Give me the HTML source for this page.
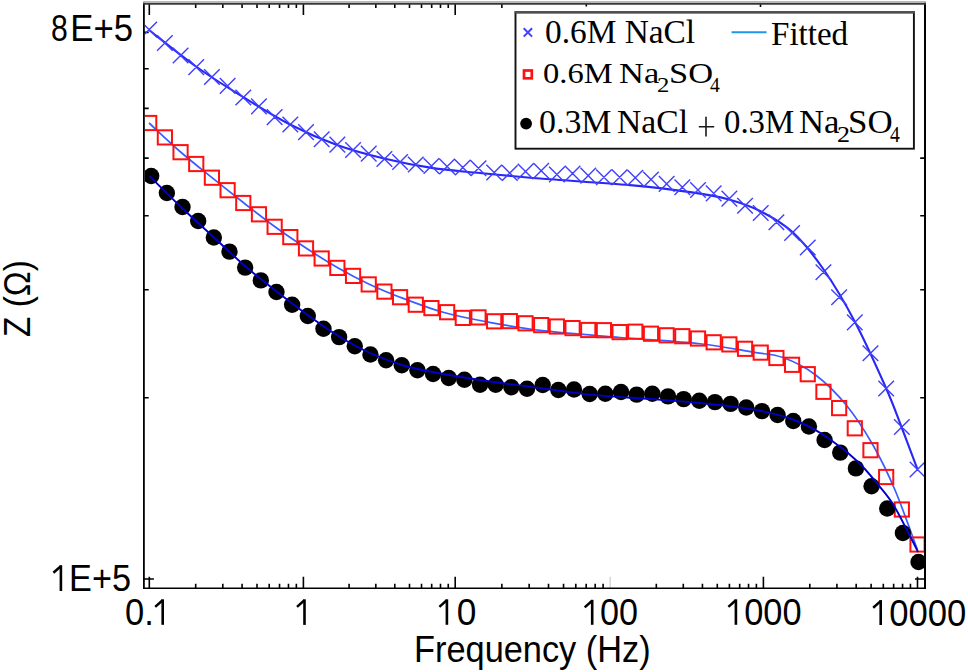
<!DOCTYPE html>
<html><head><meta charset="utf-8"><style>
html,body{margin:0;padding:0;background:#fff;}
body{width:968px;height:672px;position:relative;overflow:hidden;}
svg{position:absolute;left:0;top:0;}
.t{position:absolute;font-family:"Liberation Sans",sans-serif;font-size:36px;line-height:1;color:#000;white-space:nowrap;transform-origin:0 0;}
.o{color:transparent;}
.s{position:absolute;font-family:"Liberation Serif",serif;font-size:33px;line-height:1;color:#000;white-space:nowrap;transform-origin:0 0;}
.s sub{font-size:0.73em;vertical-align:-0.3em;line-height:0;}
</style></head><body>
<svg width="968" height="672" viewBox="0 0 968 672">
<defs><clipPath id="pc"><rect x="144.9" y="4.6" width="779.1" height="582.6"/></clipPath></defs>
<path d="M149.30,588.20V576.70 M149.30,3.60V15.10 M195.69,588.20V583.70 M195.69,3.60V8.10 M222.82,588.20V583.70 M222.82,3.60V8.10 M242.08,588.20V583.70 M242.08,3.60V8.10 M257.01,588.20V583.70 M257.01,3.60V8.10 M269.21,588.20V583.70 M269.21,3.60V8.10 M279.53,588.20V583.70 M279.53,3.60V8.10 M288.47,588.20V583.70 M288.47,3.60V8.10 M296.35,588.20V583.70 M296.35,3.60V8.10 M303.40,588.20V576.70 M303.40,3.60V15.10 M349.10,588.20V583.70 M349.10,3.60V8.10 M375.83,588.20V583.70 M375.83,3.60V8.10 M394.79,588.20V583.70 M394.79,3.60V8.10 M409.50,588.20V583.70 M409.50,3.60V8.10 M421.52,588.20V583.70 M421.52,3.60V8.10 M431.69,588.20V583.70 M431.69,3.60V8.10 M440.49,588.20V583.70 M440.49,3.60V8.10 M448.25,588.20V583.70 M448.25,3.60V8.10 M455.20,588.20V576.70 M455.20,3.60V15.10 M501.86,588.20V583.70 M501.86,3.60V8.10 M529.15,588.20V583.70 M548.52,588.20V583.70 M563.54,588.20V583.70 M575.81,588.20V583.70 M586.19,588.20V583.70 M595.18,588.20V583.70 M603.11,588.20V583.70 M656.32,588.20V583.70 M683.29,588.20V583.70 M702.44,588.20V583.70 M717.28,588.20V583.70 M729.41,588.20V583.70 M739.67,588.20V583.70 M748.55,588.20V583.70 M756.39,588.20V583.70 M763.40,588.20V576.70 M809.79,588.20V583.70 M836.92,588.20V583.70 M856.18,588.20V583.70 M871.11,588.20V583.70 M883.31,588.20V583.70 M893.63,588.20V583.70 M902.57,588.20V583.70 M910.45,588.20V583.70 M917.50,588.20V576.70 M586.3,3.60V6.60 M760.5,3.60V7.10 M143.90,579.00H153.90 M925.00,579.00H915.00 M143.90,397.80H148.70 M925.00,397.80H920.20 M143.90,289.80H148.70 M925.00,289.80H920.20 M143.90,215.80H148.70 M925.00,215.80H920.20 M143.90,158.10H148.70 M925.00,158.10H920.20 M143.90,108.40H148.70 M143.90,68.80H148.70 M143.90,32.40H148.70" stroke="#000" stroke-width="1.6" fill="none"/>
<path d="M610.2,588.20V576.70" stroke="#d8d8d8" stroke-width="1.6"/>
<g clip-path="url(#pc)">
<path d="M149.00,30.00 C156.83,36.08 180.33,55.33 196.00,66.50 C211.67,77.67 227.33,87.33 243.00,97.00 C258.67,106.67 274.33,116.50 290.00,124.50 C305.67,132.50 321.33,139.33 337.00,145.00 C352.67,150.67 368.22,154.68 384.00,158.50 C399.78,162.32 415.70,165.48 431.70,167.90 C447.70,170.32 461.95,171.23 480.00,173.00 C498.05,174.77 515.00,176.48 540.00,178.50 C565.00,180.52 604.67,182.78 630.00,185.10 C655.33,187.42 675.50,189.98 692.00,192.40 C708.50,194.82 717.33,196.33 729.00,199.60 C740.67,202.87 751.33,206.50 762.00,212.00 C772.67,217.50 782.67,222.93 793.00,232.60 C803.33,242.27 813.67,255.10 824.00,270.00 C834.33,284.90 844.67,302.33 855.00,322.00 C865.33,341.67 878.22,370.42 886.00,388.00 C893.78,405.58 896.43,413.88 901.70,427.50 C906.97,441.12 914.95,462.67 917.60,469.70" stroke="#2828f5" stroke-width="2.1" fill="none"/>
<path d="M149.00,123.00 C154.27,127.83 170.10,142.88 180.60,152.00 C191.10,161.12 201.55,169.28 212.00,177.70 C222.45,186.12 232.87,194.37 243.30,202.50 C253.73,210.63 264.15,218.92 274.60,226.50 C285.05,234.08 295.55,241.17 306.00,248.00 C316.45,254.83 326.85,261.50 337.30,267.50 C347.75,273.50 358.25,279.05 368.70,284.00 C379.15,288.95 387.90,292.58 400.00,297.20 C412.10,301.82 427.53,307.73 441.30,311.70 C455.07,315.67 466.15,317.88 482.60,321.00 C499.05,324.12 517.10,327.65 540.00,330.40 C562.90,333.15 593.33,335.27 620.00,337.50 C646.67,339.73 677.92,341.32 700.00,343.75 C722.08,346.18 738.68,349.81 752.50,352.10 C766.32,354.39 772.48,353.77 782.90,357.50 C793.32,361.23 804.42,366.53 815.00,374.50 C825.58,382.47 836.70,393.47 846.40,405.30 C856.10,417.13 865.10,431.38 873.20,445.50 C881.30,459.62 887.62,472.58 895.00,490.00 C902.38,507.42 913.75,540.00 917.50,550.00" stroke="#3c5cff" stroke-width="1.7" fill="none"/>
<path d="M141.40,21.80L157.00,37.40M141.40,37.40L157.00,21.80M157.08,35.20L172.68,50.80M157.08,50.80L172.68,35.20M172.76,47.70L188.36,63.30M172.76,63.30L188.36,47.70M188.44,59.30L204.04,74.90M188.44,74.90L204.04,59.30M204.12,69.20L219.72,84.80M204.12,84.80L219.72,69.20M219.80,78.10L235.40,93.70M219.80,93.70L235.40,78.10M235.48,89.70L251.08,105.30M235.48,105.30L251.08,89.70M251.16,98.60L266.76,114.20M251.16,114.20L266.76,98.60M266.84,109.30L282.44,124.90M266.84,124.90L282.44,109.30M282.52,116.70L298.12,132.30M282.52,132.30L298.12,116.70M298.20,124.30L313.80,139.90M298.20,139.90L313.80,124.30M313.88,131.50L329.48,147.10M313.88,147.10L329.48,131.50M329.56,136.80L345.16,152.40M329.56,152.40L345.16,136.80M345.24,142.20L360.84,157.80M345.24,157.80L360.84,142.20M360.92,145.80L376.52,161.40M360.92,161.40L376.52,145.80M376.60,151.20L392.20,166.80M376.60,166.80L392.20,151.20M392.28,154.20L407.88,169.80M392.28,169.80L407.88,154.20M407.96,156.70L423.56,172.30M407.96,172.30L423.56,156.70M423.64,158.20L439.24,173.80M423.64,173.80L439.24,158.20M439.32,158.70L454.92,174.30M439.32,174.30L454.92,158.70M455.00,159.70L470.60,175.30M455.00,175.30L470.60,159.70M470.68,160.50L486.28,176.10M470.68,176.10L486.28,160.50M486.36,164.70L501.96,180.30M486.36,180.30L501.96,164.70M502.04,165.20L517.64,180.80M502.04,180.80L517.64,165.20M517.72,163.70L533.32,179.30M517.72,179.30L533.32,163.70M533.40,163.00L549.00,178.60M533.40,178.60L549.00,163.00M549.08,166.70L564.68,182.30M549.08,182.30L564.68,166.70M564.76,165.70L580.36,181.30M564.76,181.30L580.36,165.70M580.44,167.80L596.04,183.40M580.44,183.40L596.04,167.80M596.12,169.50L611.72,185.10M596.12,185.10L611.72,169.50M611.80,169.50L627.40,185.10M611.80,185.10L627.40,169.50M627.48,170.00L643.08,185.60M627.48,185.60L643.08,170.00M643.16,171.70L658.76,187.30M643.16,187.30L658.76,171.70M658.84,176.10L674.44,191.70M658.84,191.70L674.44,176.10M674.52,179.40L690.12,195.00M674.52,195.00L690.12,179.40M690.20,182.20L705.80,197.80M690.20,197.80L705.80,182.20M705.88,185.60L721.48,201.20M705.88,201.20L721.48,185.60M721.56,190.80L737.16,206.40M721.56,206.40L737.16,190.80M737.24,198.00L752.84,213.60M737.24,213.60L752.84,198.00M752.92,205.20L768.52,220.80M752.92,220.80L768.52,205.20M768.60,214.50L784.20,230.10M768.60,230.10L784.20,214.50M784.28,225.20L799.88,240.80M784.28,240.80L799.88,225.20M799.96,239.70L815.56,255.30M799.96,255.30L815.56,239.70M815.64,264.40L831.24,280.00M815.64,280.00L831.24,264.40M831.32,289.50L846.92,305.10M831.32,305.10L846.92,289.50M847.00,314.60L862.60,330.20M847.00,330.20L862.60,314.60M862.68,345.50L878.28,361.10M862.68,361.10L878.28,345.50M878.36,380.70L893.96,396.30M878.36,396.30L893.96,380.70M894.04,419.20L909.64,434.80M894.04,434.80L909.64,419.20M909.72,461.70L925.32,477.30M909.72,477.30L925.32,461.70" stroke="#3f3fff" stroke-width="1.4" fill="none"/>
<g stroke="#ff1010" stroke-width="2" fill="none"><rect x="142.10" y="115.90" width="14.20" height="14.20"/><rect x="157.78" y="130.30" width="14.20" height="14.20"/><rect x="173.46" y="145.10" width="14.20" height="14.20"/><rect x="189.14" y="156.90" width="14.20" height="14.20"/><rect x="204.82" y="170.60" width="14.20" height="14.20"/><rect x="220.50" y="183.10" width="14.20" height="14.20"/><rect x="236.18" y="195.90" width="14.20" height="14.20"/><rect x="251.86" y="207.20" width="14.20" height="14.20"/><rect x="267.54" y="219.70" width="14.20" height="14.20"/><rect x="283.22" y="230.00" width="14.20" height="14.20"/><rect x="298.90" y="241.30" width="14.20" height="14.20"/><rect x="314.58" y="251.40" width="14.20" height="14.20"/><rect x="330.26" y="260.80" width="14.20" height="14.20"/><rect x="345.94" y="268.80" width="14.20" height="14.20"/><rect x="361.62" y="277.30" width="14.20" height="14.20"/><rect x="377.30" y="284.50" width="14.20" height="14.20"/><rect x="392.98" y="290.10" width="14.20" height="14.20"/><rect x="408.66" y="297.60" width="14.20" height="14.20"/><rect x="424.34" y="301.00" width="14.20" height="14.20"/><rect x="440.02" y="305.10" width="14.20" height="14.20"/><rect x="455.70" y="310.80" width="14.20" height="14.20"/><rect x="471.38" y="310.30" width="14.20" height="14.20"/><rect x="487.06" y="314.20" width="14.20" height="14.20"/><rect x="502.74" y="314.00" width="14.20" height="14.20"/><rect x="518.42" y="316.20" width="14.20" height="14.20"/><rect x="534.10" y="318.00" width="14.20" height="14.20"/><rect x="549.78" y="319.40" width="14.20" height="14.20"/><rect x="565.46" y="321.00" width="14.20" height="14.20"/><rect x="581.14" y="322.90" width="14.20" height="14.20"/><rect x="596.82" y="323.10" width="14.20" height="14.20"/><rect x="612.50" y="325.00" width="14.20" height="14.20"/><rect x="628.18" y="324.60" width="14.20" height="14.20"/><rect x="643.86" y="326.60" width="14.20" height="14.20"/><rect x="659.54" y="328.20" width="14.20" height="14.20"/><rect x="675.22" y="329.10" width="14.20" height="14.20"/><rect x="690.90" y="331.40" width="14.20" height="14.20"/><rect x="706.58" y="335.20" width="14.20" height="14.20"/><rect x="722.26" y="337.30" width="14.20" height="14.20"/><rect x="737.94" y="341.70" width="14.20" height="14.20"/><rect x="753.62" y="345.50" width="14.20" height="14.20"/><rect x="769.30" y="350.90" width="14.20" height="14.20"/><rect x="784.98" y="357.70" width="14.20" height="14.20"/><rect x="800.66" y="367.10" width="14.20" height="14.20"/><rect x="816.34" y="384.70" width="14.20" height="14.20"/><rect x="832.02" y="401.00" width="14.20" height="14.20"/><rect x="847.70" y="421.20" width="14.20" height="14.20"/><rect x="863.38" y="443.10" width="14.20" height="14.20"/><rect x="879.06" y="469.90" width="14.20" height="14.20"/><rect x="894.74" y="502.40" width="14.20" height="14.20"/><rect x="910.42" y="537.40" width="14.20" height="14.20"/></g>
<g fill="#000"><circle cx="151.20" cy="176.00" r="8.20"/><circle cx="166.86" cy="193.00" r="8.20"/><circle cx="182.52" cy="207.00" r="8.20"/><circle cx="198.18" cy="221.00" r="8.20"/><circle cx="213.84" cy="237.50" r="8.20"/><circle cx="229.50" cy="251.60" r="8.20"/><circle cx="245.16" cy="267.60" r="8.20"/><circle cx="260.82" cy="280.40" r="8.20"/><circle cx="276.48" cy="292.00" r="8.20"/><circle cx="292.14" cy="304.70" r="8.20"/><circle cx="307.80" cy="316.00" r="8.20"/><circle cx="323.46" cy="328.80" r="8.20"/><circle cx="339.12" cy="337.10" r="8.20"/><circle cx="354.78" cy="346.20" r="8.20"/><circle cx="370.44" cy="354.50" r="8.20"/><circle cx="386.10" cy="360.20" r="8.20"/><circle cx="401.76" cy="365.20" r="8.20"/><circle cx="417.42" cy="370.20" r="8.20"/><circle cx="433.08" cy="374.00" r="8.20"/><circle cx="448.74" cy="378.00" r="8.20"/><circle cx="464.40" cy="379.75" r="8.20"/><circle cx="480.06" cy="384.70" r="8.20"/><circle cx="495.72" cy="384.70" r="8.20"/><circle cx="511.38" cy="387.20" r="8.20"/><circle cx="527.04" cy="388.80" r="8.20"/><circle cx="542.70" cy="385.00" r="8.20"/><circle cx="558.36" cy="390.00" r="8.20"/><circle cx="574.02" cy="389.50" r="8.20"/><circle cx="589.68" cy="394.00" r="8.20"/><circle cx="605.34" cy="393.75" r="8.20"/><circle cx="621.00" cy="392.00" r="8.20"/><circle cx="636.66" cy="394.60" r="8.20"/><circle cx="652.32" cy="393.75" r="8.20"/><circle cx="667.98" cy="396.40" r="8.20"/><circle cx="683.64" cy="399.10" r="8.20"/><circle cx="699.30" cy="400.70" r="8.20"/><circle cx="714.96" cy="402.10" r="8.20"/><circle cx="730.62" cy="403.90" r="8.20"/><circle cx="746.28" cy="407.50" r="8.20"/><circle cx="761.94" cy="411.10" r="8.20"/><circle cx="777.60" cy="415.00" r="8.20"/><circle cx="793.26" cy="421.00" r="8.20"/><circle cx="808.92" cy="426.50" r="8.20"/><circle cx="824.58" cy="440.00" r="8.20"/><circle cx="840.24" cy="452.60" r="8.20"/><circle cx="855.90" cy="468.40" r="8.20"/><circle cx="871.56" cy="486.30" r="8.20"/><circle cx="887.22" cy="508.50" r="8.20"/><circle cx="902.88" cy="533.00" r="8.20"/><circle cx="918.54" cy="562.00" r="8.20"/></g>
<path d="M149.50,176.00 C154.75,181.17 170.25,196.75 181.00,207.00 C191.75,217.25 203.33,227.67 214.00,237.50 C224.67,247.33 234.67,257.08 245.00,266.00 C255.33,274.92 265.33,282.67 276.00,291.00 C286.67,299.33 298.33,308.33 309.00,316.00 C319.67,323.67 329.83,330.83 340.00,337.00 C350.17,343.17 359.67,348.33 370.00,353.00 C380.33,357.67 392.00,361.92 402.00,365.00 C412.00,368.08 417.00,369.00 430.00,371.50 C443.00,374.00 461.67,377.25 480.00,380.00 C498.33,382.75 521.67,385.57 540.00,388.00 C558.33,390.43 571.67,392.77 590.00,394.60 C608.33,396.43 633.33,397.75 650.00,399.00 C666.67,400.25 677.38,400.98 690.00,402.10 C702.62,403.22 713.80,404.22 725.70,405.70 C737.60,407.18 750.15,408.70 761.40,411.00 C772.65,413.30 784.03,416.23 793.20,419.50 C802.37,422.77 809.63,426.82 816.40,430.60 C823.17,434.38 828.63,438.55 833.80,442.20 C838.97,445.85 842.62,448.45 847.40,452.50 C852.18,456.55 857.48,461.25 862.50,466.50 C867.52,471.75 872.33,477.58 877.50,484.00 C882.67,490.42 887.92,496.00 893.50,505.00 C899.08,514.00 906.92,530.17 911.00,538.00 C915.08,545.83 916.83,549.67 918.00,552.00" stroke="#0000c8" stroke-width="1.9" fill="none"/>
</g>
<path d="M143.90,2.60V589.00" stroke="#000" stroke-width="1.8"/>
<path d="M925.00,2.60V589.00" stroke="#000" stroke-width="2"/>
<path d="M143.00,588.20H926.00" stroke="#000" stroke-width="1.6"/>
<path d="M143.00,2.0H926.00" stroke="#a0a0a0" stroke-width="1.6"/>
<path d="M143.00,3.9H926.00" stroke="#383838" stroke-width="1.7"/>
<rect x="515.5" y="12.3" width="398.4" height="136.4" fill="#fff" stroke="#111" stroke-width="1.9"/>
<path d="M514.6,12.2H914.8" stroke="#505050" stroke-width="2.6"/>
<path d="M523.7,28.2L532.1,36.6M523.7,36.6L532.1,28.2" stroke="#4040ff" stroke-width="2"/>
<rect x="524.0" y="70.5" width="7.8" height="7.8" fill="none" stroke="#ff1010" stroke-width="2.7"/>
<circle cx="526.1" cy="123.6" r="5.9" fill="#000"/>
<path d="M731.6,32.3H766.5" stroke="#1e96f0" stroke-width="2"/>
<path d="M698.8,126.8H714.2M706,116.7V136.5" stroke="#1a1a1a" stroke-width="1.6"/>
<rect x="161.40" y="599.30" width="2.6" height="25.50" fill="#000"/>
<path d="M162.60,600.30L155.20,606.90" stroke="#000" stroke-width="2.5"/>
<rect x="303.20" y="599.30" width="2.6" height="25.60" fill="#000"/>
<path d="M304.40,600.30L297.00,606.90" stroke="#000" stroke-width="2.5"/>
<rect x="445.60" y="599.30" width="2.6" height="25.50" fill="#000"/>
<path d="M446.80,600.30L439.40,606.90" stroke="#000" stroke-width="2.5"/>
<rect x="590.90" y="599.80" width="2.6" height="25.00" fill="#000"/>
<path d="M592.10,600.80L584.70,607.40" stroke="#000" stroke-width="2.5"/>
<rect x="734.60" y="599.30" width="2.6" height="25.50" fill="#000"/>
<path d="M735.80,600.30L728.40,606.90" stroke="#000" stroke-width="2.5"/>
<rect x="879.40" y="600.10" width="2.6" height="24.90" fill="#000"/>
<path d="M880.60,601.10L873.20,607.70" stroke="#000" stroke-width="2.5"/>
<rect x="59.60" y="565.20" width="2.6" height="25.80" fill="#000"/>
<path d="M60.80,566.20L53.40,572.80" stroke="#000" stroke-width="2.5"/>
</svg>
<div class="t" style="left:50.95px;top:10.59px;transform:scale(0.9640,1.0000);"><span style="display:inline-block;transform:scaleX(0.87);transform-origin:0 0;">8</span>E+5</div>
<div class="t" style="left:49.86px;top:560.55px;transform:scale(0.9511,1.0000);"><span class="o">1</span>E+5</div>
<div class="t" style="left:124.76px;top:595.16px;transform:scale(0.9600,1.0000);">0.<span class="o">1</span></div>
<div class="t" style="left:290.75px;top:595.08px;transform:scale(0.9600,1.0000);"><span class="o">1</span></div>
<div class="t" style="left:436.50px;top:595.45px;transform:scale(0.9808,1.0000);"><span class="o">1</span>0</div>
<div class="t" style="left:581.44px;top:595.05px;transform:scale(0.9496,1.0000);"><span class="o">1</span>00</div>
<div class="t" style="left:725.40px;top:595.01px;transform:scale(0.9551,1.0000);"><span class="o">1</span>000</div>
<div class="t" style="left:870.21px;top:595.57px;transform:scale(0.9625,1.0000);"><span class="o">1</span>0000</div>
<div class="t" style="left:414.03px;top:631.62px;transform:scale(0.9542,1.0000);">Frequency (Hz)</div>
<div class="s" style="font-size:33px;left:545.36px;top:16.20px;transform:scaleX(1.0107);">0.6M NaCl</div>
<div class="s" style="font-size:33px;left:771.10px;top:17.50px;transform:scaleX(1.0019);">Fitted</div>
<div class="s" style="font-size:30px;left:543.43px;top:58.20px;transform:scaleX(1.0842);">0.6M</div>
<div class="s" style="font-size:30px;left:618.90px;top:58.20px;transform:scaleX(1.1485);">Na</div>
<div class="s" style="font-size:21px;left:657.24px;top:75.30px;transform:scaleX(1.1787);">2</div>
<div class="s" style="font-size:30px;left:668.80px;top:58.20px;transform:scaleX(1.1488);">SO</div>
<div class="s" style="font-size:21px;left:710.05px;top:74.85px;transform:scaleX(0.9343);">4</div>
<div class="s" style="font-size:33px;left:539.10px;top:106.30px;transform:scaleX(1.0271);">0.3M</div>
<div class="s" style="font-size:33px;left:617.08px;top:106.30px;transform:scaleX(1.0188);">NaCl</div>
<div class="s" style="font-size:33px;left:723.58px;top:106.30px;transform:scaleX(0.9937);">0.3M</div>
<div class="s" style="font-size:33px;left:798.67px;top:106.30px;transform:scaleX(1.0516);">Na</div>
<div class="s" style="font-size:24px;left:836.55px;top:121.90px;transform:scaleX(1.0844);">2</div>
<div class="s" style="font-size:33px;left:847.75px;top:106.30px;transform:scaleX(1.0564);">SO</div>
<div class="s" style="font-size:24px;left:890.00px;top:121.92px;transform:scaleX(0.8209);">4</div>
<div class="t" style="left:-0.16px;top:337.26px;transform:rotate(-90deg) scale(0.9287,1);">Z (&Omega;)</div>
</body></html>
